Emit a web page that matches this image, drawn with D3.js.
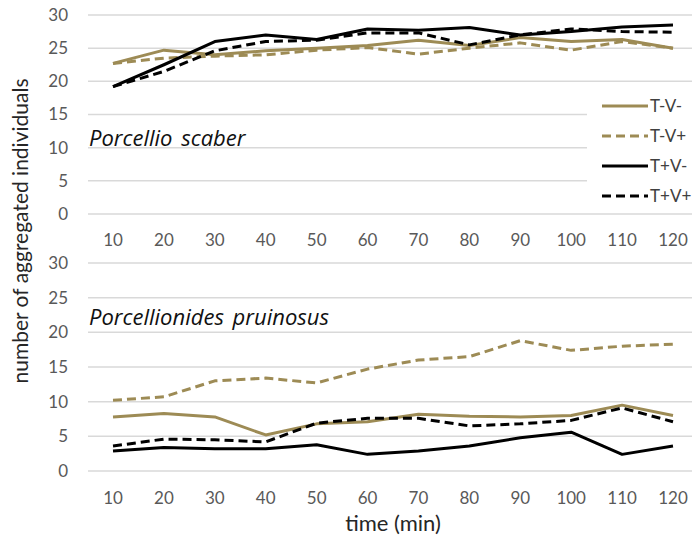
<!DOCTYPE html>
<html><head><meta charset="utf-8">
<script src="https://cdn.jsdelivr.net/npm/d3@7"></script>
<style>body{margin:0;background:#fff}svg{display:block}text{font-family:Lato,"Open Sans",sans-serif}</style>
</head><body><svg id="c" width="692" height="538"></svg>
<script>
const times = [10,20,30,40,50,60,70,80,90,100,110,120];
const yTicks = [0,5,10,15,20,25,30];
const seriesNames = ["T-V-","T-V+","T+V-","T+V+"];
// Porcellio scaber
const scaberTmVm = [22.7,24.7,24.0,24.6,25.0,25.4,26.2,25.4,26.6,26.0,26.3,25.0];
const scaberTmVp = [22.7,23.5,23.8,24.0,24.7,25.1,24.1,25.0,25.8,24.7,26.0,25.0];
const scaberTpVm = [19.2,22.5,26.0,27.0,26.3,27.9,27.7,28.1,27.0,27.5,28.2,28.5];
const scaberTpVp = [19.2,21.5,24.6,26.0,26.2,27.3,27.3,25.5,27.0,27.9,27.5,27.4];
// Porcellionides pruinosus
const pruinTmVm = [7.8,8.3,7.8,5.2,6.8,7.1,8.2,7.9,7.8,8.0,9.5,8.0];
const pruinTmVp = [10.2,10.7,13.0,13.4,12.7,14.7,16.0,16.5,18.8,17.4,18.0,18.3];
const pruinTpVm = [2.9,3.4,3.2,3.2,3.8,2.4,2.9,3.6,4.8,5.6,2.4,3.6];
const pruinTpVp = [3.6,4.6,4.5,4.2,6.9,7.6,7.6,6.5,6.8,7.3,9.1,7.1];

const olive = "#9d8b55", black = "#000";
const styles = {"T-V-":{c:olive,d:null},"T-V+":{c:olive,d:"9,5"},"T+V-":{c:black,d:null},"T+V+":{c:black,d:"9,5"}};

const svg = d3.select("#c");
const x = d3.scalePoint().domain(times).range([113,673]);
const gridX0 = 88, gridX1 = 692;

function panel(y0, y1, data, title, titleY, tickLabelY, legend){
  const y = d3.scaleLinear().domain([0,30]).range([y0,y1]);
  const g = svg.append("g");
  g.selectAll("line.grid").data(yTicks).enter().append("line")
    .attr("x1",gridX0).attr("x2",gridX1).attr("y1",d=>y(d)).attr("y2",d=>y(d))
    .attr("stroke","#d9d9d9").attr("stroke-width",1.5);
  g.selectAll("text.yt").data(yTicks).enter().append("text")
    .attr("x",68).attr("y",d=>y(d)).attr("dy","0.35em").attr("text-anchor","end")
    .attr("fill","#595959").attr("font-size",17).text(d=>d);
  g.selectAll("text.xt").data(times).enter().append("text")
    .attr("x",d=>x(d)).attr("y",tickLabelY).attr("dy","0.35em").attr("text-anchor","middle")
    .attr("fill","#595959").attr("font-size",17).text(d=>d);
  if(legend){
    g.append("rect").attr("x",587).attr("y",93).attr("width",105).attr("height",113).attr("fill","#fff");
  }
  g.append("text").attr("x",89).attr("y",titleY).attr("font-size",22).attr("font-style","italic")
    .style("font-family","'Open Sans',sans-serif").attr("word-spacing",3)
    .attr("fill","#111").text(title);
  const line = d3.line().x((d,i)=>x(times[i])).y(d=>y(d));
  seriesNames.forEach((n,k)=>{
    g.append("path").datum(data[k]).attr("d",line).attr("fill","none")
      .attr("stroke",styles[n].c).attr("stroke-width",3).attr("stroke-dasharray",styles[n].d)
      .attr("stroke-linejoin","round");
  });
  if(legend){
    seriesNames.forEach((n,k)=>{
      const ly = 106 + k*30;
      g.append("line").attr("x1",602).attr("x2",648).attr("y1",ly).attr("y2",ly)
        .attr("stroke",styles[n].c).attr("stroke-width",3).attr("stroke-dasharray",styles[n].d);
      g.append("text").attr("x",650).attr("y",ly).attr("dy","0.35em").attr("font-size",17)
        .attr("fill","#404040").text(n);
    });
  }
}
panel(214,15,[scaberTmVm,scaberTmVp,scaberTpVm,scaberTpVp],"Porcellio scaber",146,240,true);
panel(471,263,[pruinTmVm,pruinTmVp,pruinTpVm,pruinTpVp],"Porcellionides pruinosus",325,498,false);

svg.append("text").attr("transform","translate(21,231) rotate(-90)").attr("text-anchor","middle")
  .attr("dy","0.35em").attr("font-size",21).attr("fill","#262626").text("number of aggregated individuals");
svg.append("text").attr("x",393).attr("y",523).attr("dy","0.35em").attr("text-anchor","middle")
  .attr("font-size",22).attr("fill","#262626").text("time (min)");
</script></body></html>
